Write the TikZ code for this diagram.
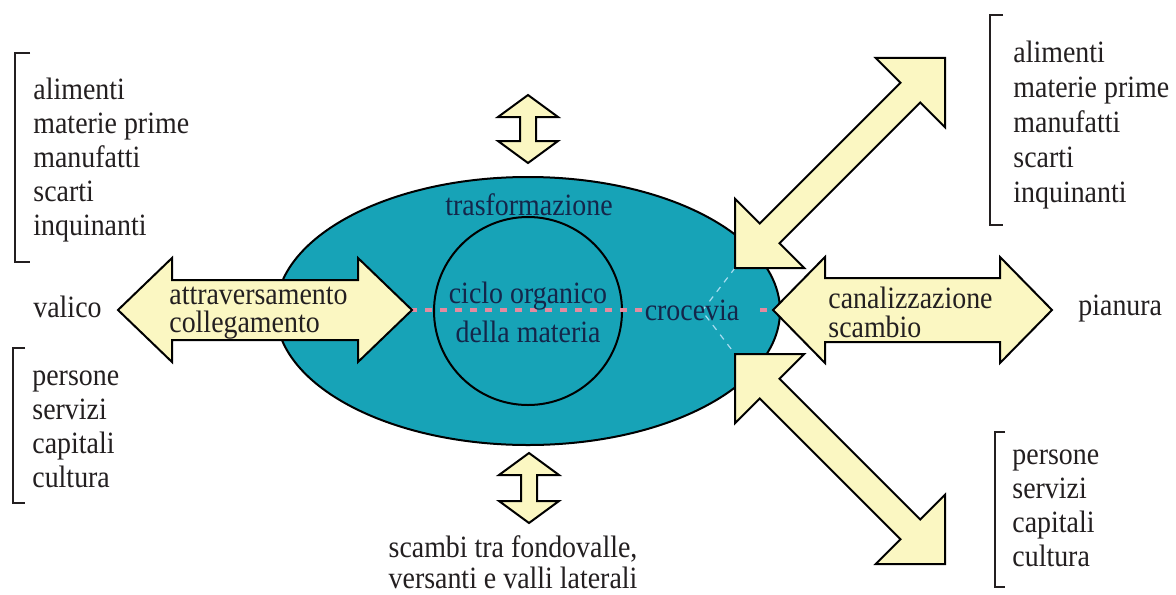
\documentclass[tikz,border=0pt]{standalone}
\usepackage{fontspec}
\setmainfont{Liberation Serif}[FakeStretch=0.9]
\usetikzlibrary{shapes.geometric}
\definecolor{tealfill}{HTML}{17A3B7}
\definecolor{pale}{HTML}{FBF7C2}
\definecolor{ink}{HTML}{231F20}
\definecolor{navy}{HTML}{14264A}
\definecolor{dashpink}{HTML}{E58AA0}
\definecolor{lightline}{HTML}{A8DCF0}
\tikzset{
  bigarrow/.style={draw=black, line width=1pt, fill=pale, line join=miter},
  bracket/.style={draw=ink, line width=1pt},
  lbl/.style={text=ink, inner sep=0pt, align=left, anchor=west},
  inlbl/.style={text=navy, inner sep=0pt},
  pinkdash/.style={draw=dashpink, line width=1.6pt, dash pattern=on 3.5pt off 4pt}
}
% #1 start, #2 angle, #3 length, #4 shaft half, #5 head half, #6 head depth, #7 name
\newcommand{\dblarrow}[7]{%
\begin{scope}[shift={#1}, rotate=#2]
\draw[bigarrow] (0,0) -- (#6,#5) -- (#6,#4) -- (#3-#6,#4) -- (#3-#6,#5) -- (#3,0)
  -- (#3-#6,-#5) -- (#3-#6,-#4) -- (#6,-#4) -- (#6,-#5) -- cycle;
\coordinate (#7) at (#3/2,0);
\end{scope}}
\begin{document}
\begin{tikzpicture}[x=0.5pt, y=-0.5pt, font=\fontsize{15.5}{17}\selectfont]
\useasboundingbox (0,0) rectangle (1176,594);
\fill[white] (0,0) rectangle (1176,594);

% central valley
\node[ellipse, draw=black, line width=1pt, fill=tealfill, minimum width=252pt, minimum height=134pt, inner sep=0pt] (valle) at (528,311) {};
\node[circle, draw=black, line width=1pt, minimum size=94pt, inner sep=0pt] (ciclo) at (528,311) {};

% crocevia chevron
\coordinate (cv) at (702,311);
\draw[lightline, line width=0.6pt, dashed] (735,268) -- (cv) -- (735,354);

% pink dashed axis
\draw[pinkdash] (410,310) -- (646,310);
\draw[pinkdash] (760,310) -- (768,310);

% big arrows
\dblarrow{(118,310)}{0}{294}{30}{52}{54}{aL}
\dblarrow{(735,268)}{45}{297}{14}{49}{49}{aUR}
\dblarrow{(735,354)}{-45}{297}{14}{49}{49}{aDR}
\dblarrow{(773,310)}{0}{279}{32}{53}{52}{aR}
\dblarrow{(528,163)}{90}{68}{8}{30}{22}{aT}
\dblarrow{(529,523)}{90}{70}{8}{30}{22}{aB}

% brackets
\draw[bracket] (30,53) -- (15,53) -- (15,262) -- (30,262);
\draw[bracket] (25,348) -- (13,348) -- (13,503) -- (25,503);
\draw[bracket] (1003,15) -- (990,15) -- (990,225) -- (1003,225);
\draw[bracket] (1005,432) -- (995,432) -- (995,587) -- (1005,587);

% list texts
\node[lbl] (ltop) at (33,160) {alimenti\\materie prime\\manufatti\\scarti\\inquinanti};
\node[lbl] (lbot) at (32,429) {persone\\servizi\\capitali\\cultura};
\node[lbl, font=\fontsize{15.5}{17.5}\selectfont] (rtop) at (1013,125) {alimenti\\materie prime\\manufatti\\scarti\\inquinanti};
\node[lbl] (rbot) at (1012,508) {persone\\servizi\\capitali\\cultura};

\node[lbl] (valico) at (33,307) {valico};
\node[lbl] (pianura) at (1078,309) {pianura};

% texts in arrows
\node[lbl, font=\fontsize{15.5}{14.2}\selectfont] (attr) at (169,313) {attraversamento\\collegamento};
\node[lbl, font=\fontsize{15.5}{14.5}\selectfont] (canal) at (828,312) {canalizzazione\\scambio};

% texts in valley
\node[inlbl] (trasf) at (529,205) {trasformazione};
\node[inlbl, align=center, font=\fontsize{15.5}{19.5}\selectfont] (cicloTxt) at (528,312) {ciclo organico\\della materia};
\node[inlbl] (crocevia) at (692,310) {crocevia};

% bottom caption
\node[text=ink, inner sep=0pt, align=center, font=\fontsize{15.5}{15.5}\selectfont] (scambi) at (513,562) {scambi tra fondovalle,\\versanti e valli laterali};
\end{tikzpicture}
\end{document}
